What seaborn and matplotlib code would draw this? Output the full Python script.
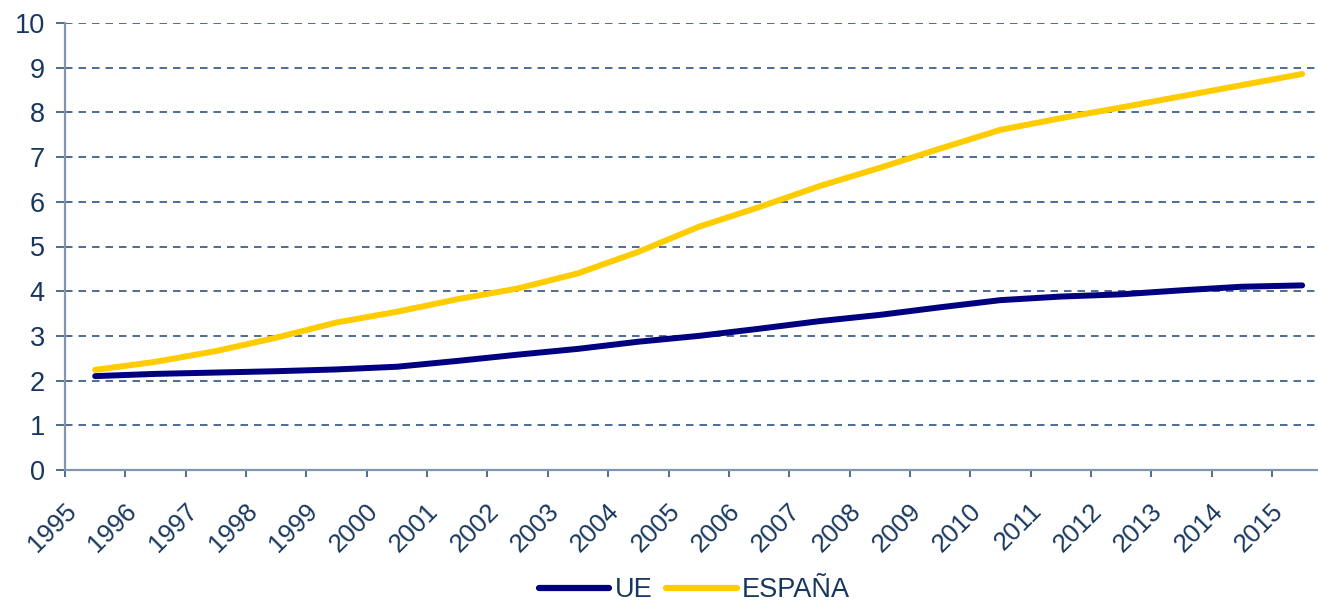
import numpy as np
import pandas as pd
import matplotlib
matplotlib.use("Agg")
import matplotlib.pyplot as plt
import matplotlib.transforms as mtransforms
import seaborn as sns

# ── Datos ────────────────────────────────────────────────────────────────
years = list(range(1995, 2016))
ue = [2.10, 2.15, 2.18, 2.21, 2.25, 2.31, 2.44, 2.58, 2.71, 2.87, 3.00,
      3.16, 3.33, 3.47, 3.64, 3.80, 3.88, 3.93, 4.02, 4.10, 4.13]
espana = [2.24, 2.42, 2.66, 2.96, 3.30, 3.54, 3.82, 4.06, 4.40, 4.88, 5.44,
          5.88, 6.35, 6.76, 7.19, 7.61, 7.87, 8.11, 8.36, 8.61, 8.86]
series_names = ["UE", "ESPAÑA"]
series_colors = ["#000080", "#FFCC00"]
y_ticks = list(range(0, 11))

df = pd.DataFrame({
    "year": years * 2,
    "value": ue + espana,
    "serie": [series_names[0]] * len(years) + [series_names[1]] * len(years),
})

# ── Estilo ───────────────────────────────────────────────────────────────
sns.set_style("white")
plt.rcParams["font.family"] = ["Liberation Sans", "DejaVu Sans"]
TEXT = "#17375E"
AXIS = "#8096B0"
GRID = "#2E5481"

W, H = 1318, 603
fig = plt.figure(figsize=(W / 100, H / 100), dpi=100)
ax = fig.add_axes([65 / W, 133 / H, (W - 65) / W, 447 / H])

sns.lineplot(data=df, x="year", y="value", hue="serie",
             palette=dict(zip(series_names, series_colors)),
             linewidth=4.3, ax=ax, legend=True)
for ln in ax.lines:
    ln.set_solid_capstyle("round")
    ln.set_solid_joinstyle("round")

# eje x: las etiquetas caen en los limites de categoria (estilo Excel)
step_px = 60.35
ax.set_xlim(years[0] - 0.5, years[0] - 0.5 + (W - 65) / step_px)
ax.set_xticks([y - 0.5 for y in years])
ax.set_xticklabels([str(y) for y in years], rotation=45, ha="right", va="top",
                   fontsize=18.5, color=TEXT)

ax.set_ylim(0, 10)
ax.set_yticks(y_ticks)
ax.set_yticklabels([str(v) for v in y_ticks], fontsize=19.5, color=TEXT)

ax.tick_params(axis="x", length=5, width=1.2, color=GRID, pad=12, bottom=True)
ax.tick_params(axis="y", length=6.5, width=1.2, color=GRID, pad=8, left=True)

# desplazar etiquetas del eje x (despues de tick_params, que reinicia transform)
offset = mtransforms.ScaledTranslation(16 / 100, -5 / 100, fig.dpi_scale_trans)
for lbl in ax.get_xticklabels():
    lbl.set_transform(lbl.get_transform() + offset)

ax.yaxis.grid(True, linestyle=(0, (4.5, 3.6)), color=GRID, linewidth=1.2)
ax.xaxis.grid(False)
ax.set_axisbelow(True)

for side in ["top", "right"]:
    ax.spines[side].set_visible(False)
for side in ["left", "bottom"]:
    ax.spines[side].set_color(AXIS)
    ax.spines[side].set_linewidth(1.6)

ax.set_xlabel("")
ax.set_ylabel("")

# leyenda abajo, centrada
handles, labels = ax.get_legend_handles_labels()
ax.get_legend().remove()
for h in handles:
    h.set_solid_capstyle("round")
    h.set_linewidth(4.5)
leg = fig.legend(handles, labels, loc="center", bbox_to_anchor=(0.527, 0.021),
                 ncol=2, frameon=False, fontsize=19.5, handlelength=2.6,
                 handletextpad=0.2, columnspacing=0.5)
for t in leg.get_texts():
    t.set_color(TEXT)

fig.savefig("out.png", dpi=100)
